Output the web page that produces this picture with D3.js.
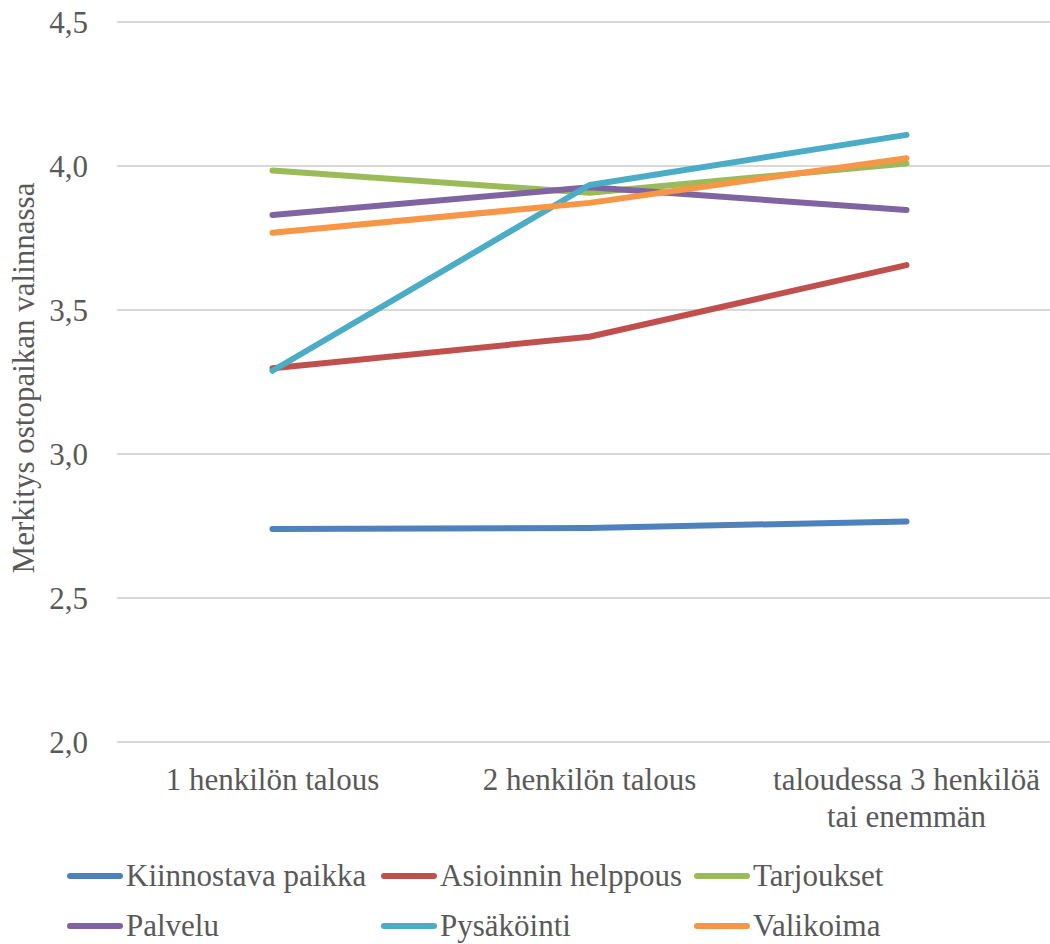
<!DOCTYPE html>
<html>
<head>
<meta charset="utf-8">
<script src="https://cdn.jsdelivr.net/npm/d3@7"></script>
<style>
body{margin:0;background:#fff;}
svg text{font-family:"Liberation Serif","Tinos","Times New Roman","DejaVu Serif",serif;fill:#595959;}
</style>
</head>
<body>
<svg id="chart"></svg>
<script>
// categories (x axis)
var categories = ["1 henkilön talous","2 henkilön talous","taloudessa 3 henkilöä tai enemmän"]
var categoryLines = [["1 henkilön talous"],["2 henkilön talous"],["taloudessa 3 henkilöä","tai enemmän"]]

// series values
var kiinnostava = [2.74,2.743,2.766]
var asioinnin = [3.298,3.407,3.656]
var tarjoukset = [3.984,3.907,4.009]
var palvelu = [3.83,3.926,3.847]
var pysakointi = [3.289,3.934,4.108]
var valikoima = [3.768,3.872,4.027]

var seriesNames = ["Kiinnostava paikka","Asioinnin helppous","Tarjoukset","Palvelu","Pysäköinti","Valikoima"]
var seriesColors = ["#4F81BD","#C0504D","#9BBB59","#8064A2","#4BACC6","#F79646"]

var yTicks = [2.0,2.5,3.0,3.5,4.0,4.5]

var series = [kiinnostava,asioinnin,tarjoukset,palvelu,pysakointi,valikoima].map(function(vals,i){
    return {name:seriesNames[i],color:seriesColors[i],values:vals}
})

var screen = {width:1050,height:944}
var svg = d3.select("#chart")
    .attr("width",screen.width)
    .attr("height",screen.height)

var xScale = d3.scaleBand()
    .domain(categories)
    .range([114,1065])
var yScale = d3.scaleLinear()
    .domain([2,4.5])
    .range([742,22])

//gridlines
svg.append("g")
    .selectAll("line")
    .data(yTicks)
    .enter()
    .append("line")
    .attr("x1",117)
    .attr("x2",screen.width)
    .attr("y1",function(d){return yScale(d)})
    .attr("y2",function(d){return yScale(d)})
    .attr("stroke","#d9d9d9")
    .attr("stroke-width",2)

//y tick labels
svg.append("g")
    .selectAll("text")
    .data(yTicks)
    .enter()
    .append("text")
    .attr("x",88)
    .attr("y",function(d){return yScale(d)})
    .attr("dy","0.35em")
    .attr("text-anchor","end")
    .style("font-size","31px")
    .text(function(d){return d.toFixed(1).replace(".",",")})

//x labels
var xl = svg.append("g")
    .selectAll("text")
    .data(categories)
    .enter()
    .append("text")
    .attr("text-anchor","middle")
    .style("font-size","31px")
    .attr("x",function(d){return xScale(d)+xScale.bandwidth()/2})
    .attr("y",790)
xl.selectAll("tspan")
    .data(function(d,i){return categoryLines[i]})
    .enter()
    .append("tspan")
    .attr("x",function(){return xScale(d3.select(this.parentNode).datum())+xScale.bandwidth()/2})
    .attr("dy",function(d,i){return i==0?0:37})
    .text(function(d){return d})

//axis title
svg.append("text")
    .attr("transform","translate(23,378) rotate(-90)")
    .attr("text-anchor","middle")
    .attr("dy","0.35em")
    .style("font-size","31px")
    .text("Merkitys ostopaikan valinnassa")

//lines
var line = d3.line()
    .x(function(d,i){return xScale(categories[i])+xScale.bandwidth()/2})
    .y(function(d){return yScale(d)})

svg.append("g")
    .selectAll("path")
    .data(series)
    .enter()
    .append("path")
    .attr("d",function(s){return line(s.values)})
    .attr("fill","none")
    .attr("stroke",function(s){return s.color})
    .attr("stroke-width",6)
    .attr("stroke-linecap","round")
    .attr("stroke-linejoin","round")

//legend
var legend = svg.append("g")
var entries = legend.selectAll("g")
    .data(series)
    .enter()
    .append("g")
    .attr("transform",function(s,i){
        var cols=[70,384,697]
        return "translate("+cols[i%3]+","+(876+Math.floor(i/3)*50)+")"
    })
entries.append("line")
    .attr("x1",0)
    .attr("x2",50)
    .attr("stroke",function(s){return s.color})
    .attr("stroke-width",6)
    .attr("stroke-linecap","round")
entries.append("text")
    .attr("x",56)
    .attr("dy","0.33em")
    .style("font-size","31px")
    .text(function(s){return s.name})
</script>
</body>
</html>
